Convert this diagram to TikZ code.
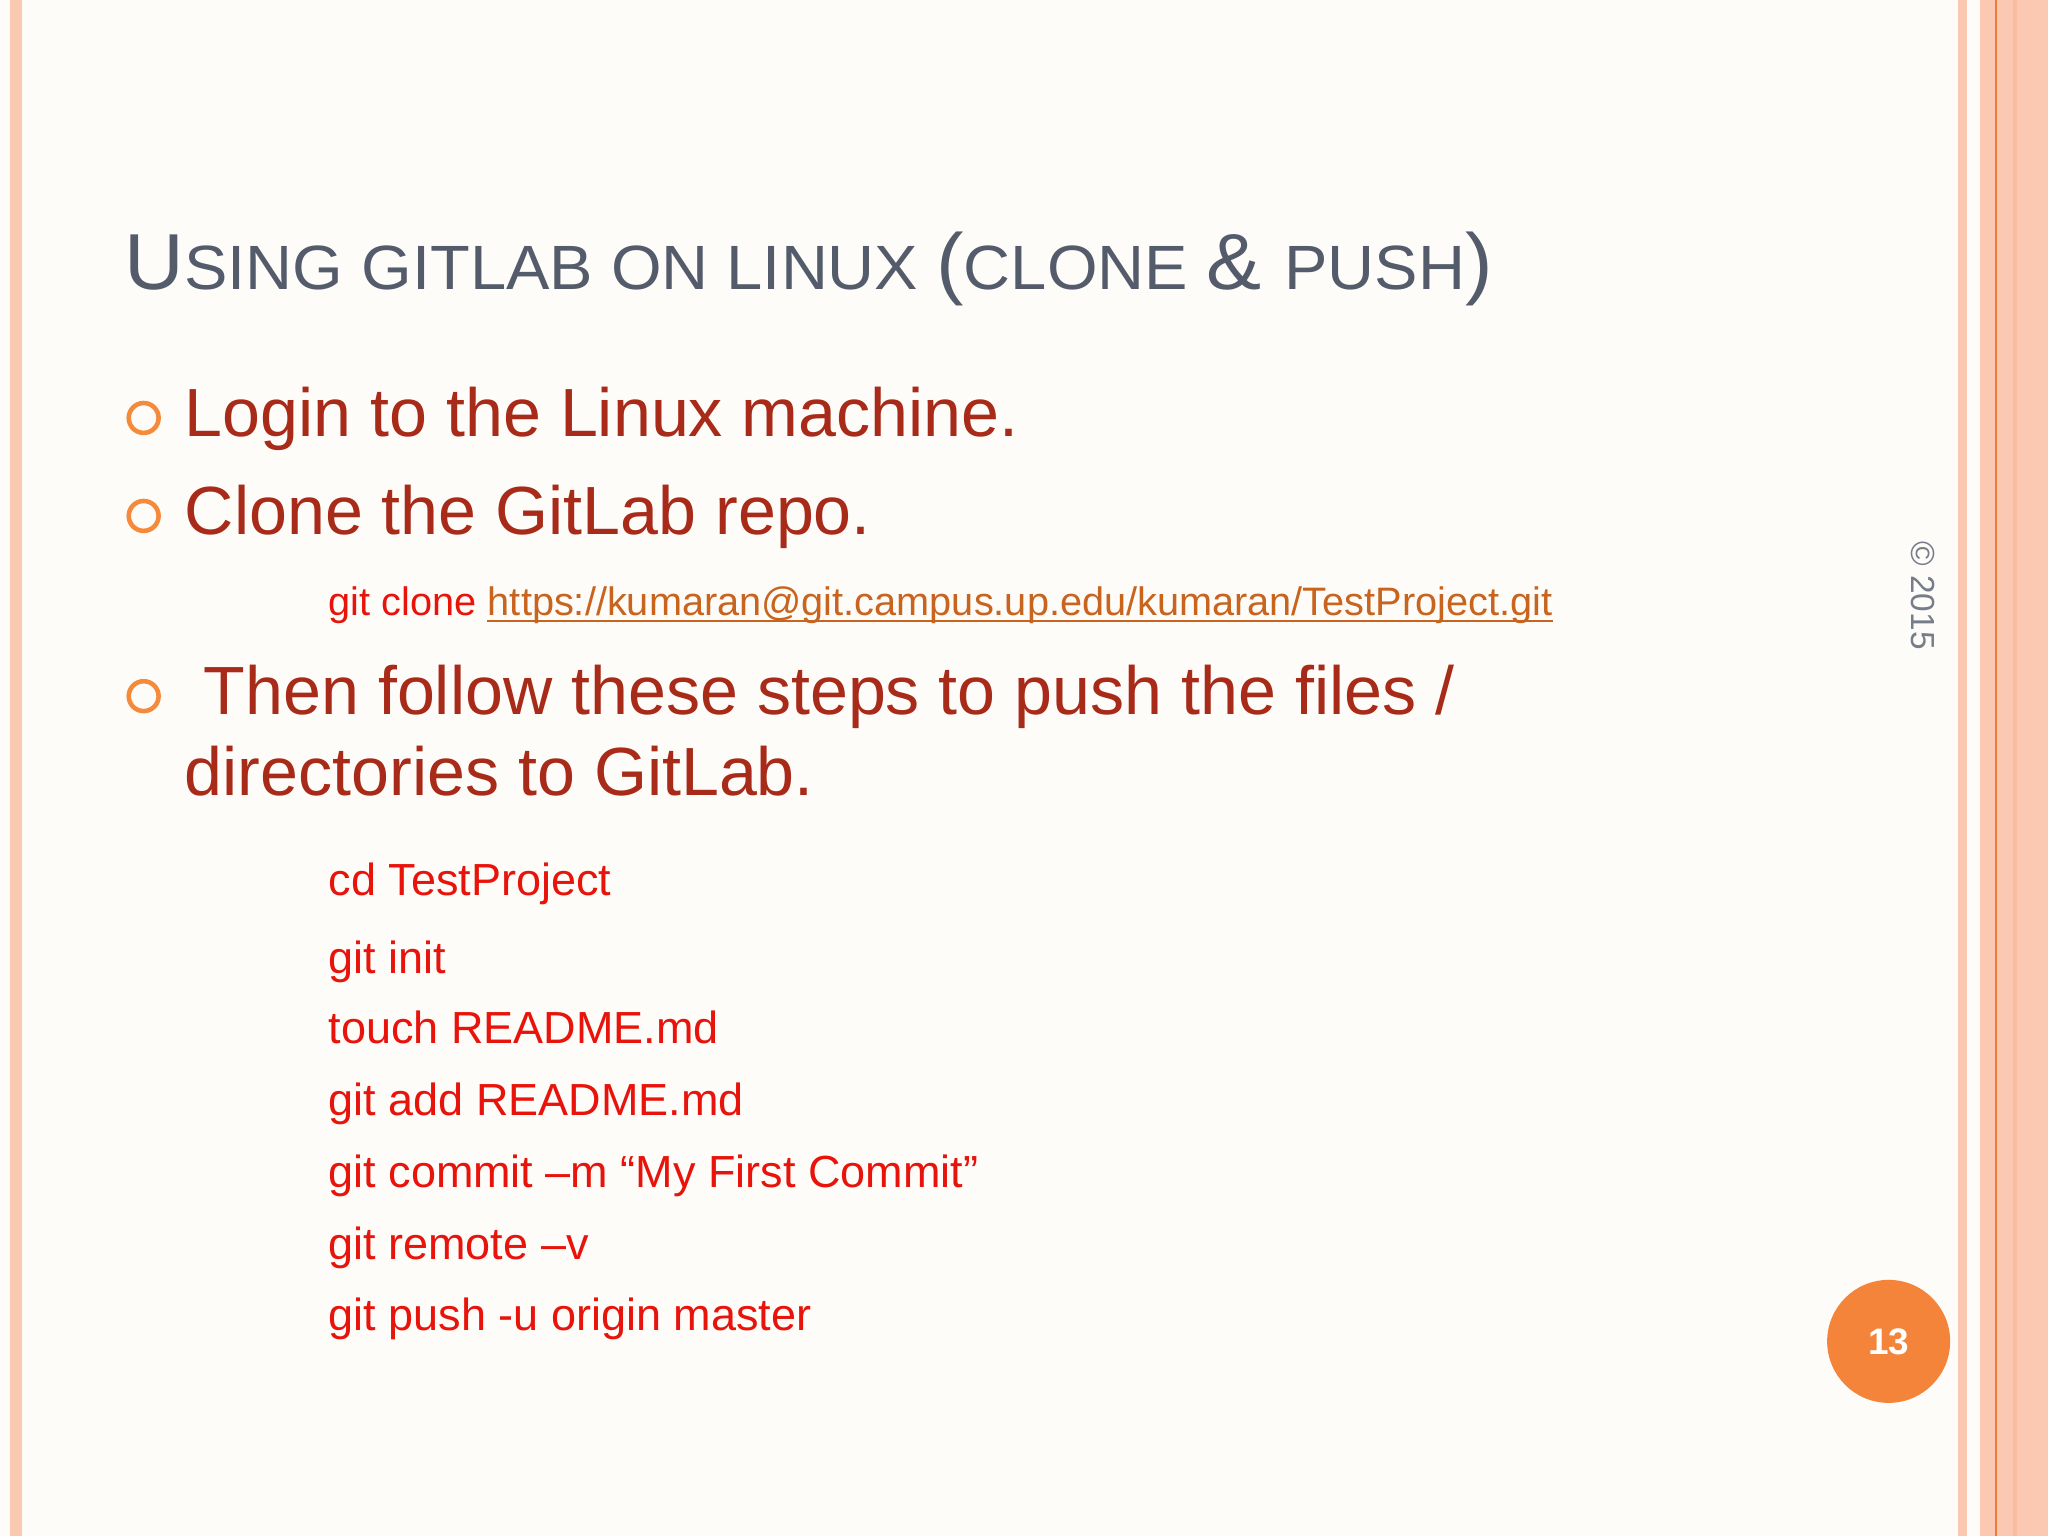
\documentclass[tikz,border=0pt]{standalone}
\usepackage{fontspec}
\setmainfont{Liberation Sans}
\definecolor{bg}{HTML}{FDFCF9}
\definecolor{stripe}{HTML}{FBC8B2}
\definecolor{stripeline}{HTML}{F07A3A}
\definecolor{titlec}{HTML}{545B6A}
\definecolor{bodyc}{HTML}{A82A18}
\definecolor{codec}{HTML}{E8140C}
\definecolor{urlc}{HTML}{C8641E}
\definecolor{bulletc}{HTML}{F48A3A}
\definecolor{circc}{HTML}{F4843A}
\tikzset{
  body/.style={anchor=base west,inner sep=0,text=bodyc,font=\fontsize{19.4}{22}\selectfont},
  code/.style={anchor=base west,inner sep=0,text=codec,font=\fontsize{12.8}{15}\selectfont},
  bul/.style={circle,draw=bulletc,line width=1.3pt,minimum size=8.5pt,inner sep=0}
}
\begin{document}
\begin{tikzpicture}[x=0.013061cm,y=-0.013061cm]
\fill[bg] (0,0) rectangle (1568,1176);
\useasboundingbox (0,0) rectangle (1568,1176);
% left border
\fill[stripe] (8,0) rectangle (17,1176);
% right border
\fill[stripe] (1499,0) rectangle (1506,1176);
\fill[stripe] (1516,0) rectangle (1568,1176);
\fill[stripe!85!stripeline] (1541,0) rectangle (1544,1176);
\fill[stripeline] (1527.5,0) rectangle (1528.8,1176);
% title
\node[anchor=base west,inner sep=0,text=titlec,xscale=1.04] (title) at (95,222)
  {\fontsize{22.6}{26}\selectfont U\fontsize{17.8}{20}\selectfont SING GITLAB ON LINUX \fontsize{22.6}{26}\selectfont(\fontsize{17.8}{20}\selectfont CLONE \fontsize{22.6}{26}\selectfont\& \fontsize{17.8}{20}\selectfont PUSH\fontsize{22.6}{26}\selectfont)};
% bullets
\node[bul] (b1) at (110,320) {};
\node[body] (t1) at (141,334) {Login to the Linux machine.};
\node[bul] (b2) at (110,395) {};
\node[body] (t2) at (141,409) {Clone the GitLab repo.};
\node[code,font=\fontsize{11.3}{14}\selectfont] (c0) at (251,471) {git clone};
\node[code,font=\fontsize{11.3}{14}\selectfont,text=urlc] (url) at (373,471) {https://kumaran@git.campus.up.edu/kumaran/TestProject.git};
\draw[urlc,line width=0.6pt] ([yshift=-0.055cm]url.base west) -- ([yshift=-0.055cm]url.base east);
\node[bul] (b3) at (110,533) {};
\node[body] (t3) at (141,547) {\ Then follow these steps to push the files /};
\node[body] (t3b) at (141,609) {directories to GitLab.};
\node[code] (c1) at (251,686) {cd TestProject};
\node[code] (c2) at (251,745) {git init};
\node[code] (c3) at (251,799) {touch README.md};
\node[code] (c4) at (251,854) {git add README.md};
\node[code] (c5) at (251,909) {git commit –m “My First Commit”};
\node[code] (c6) at (251,964) {git remote –v};
\node[code] (c7) at (251,1019) {git push -u origin master};
% copyright
\node[rotate=-90,text=titlec!80,inner sep=0,font=\fontsize{9.5}{11}\selectfont] (copy) at (1472,456) {© 2015};
% page number
\node[circle,fill=circc,minimum size=35pt,inner sep=0,text=white,font=\bfseries\fontsize{10.5}{12}\selectfont] (pg) at (1446,1027) {13};
\end{tikzpicture}
\end{document}
